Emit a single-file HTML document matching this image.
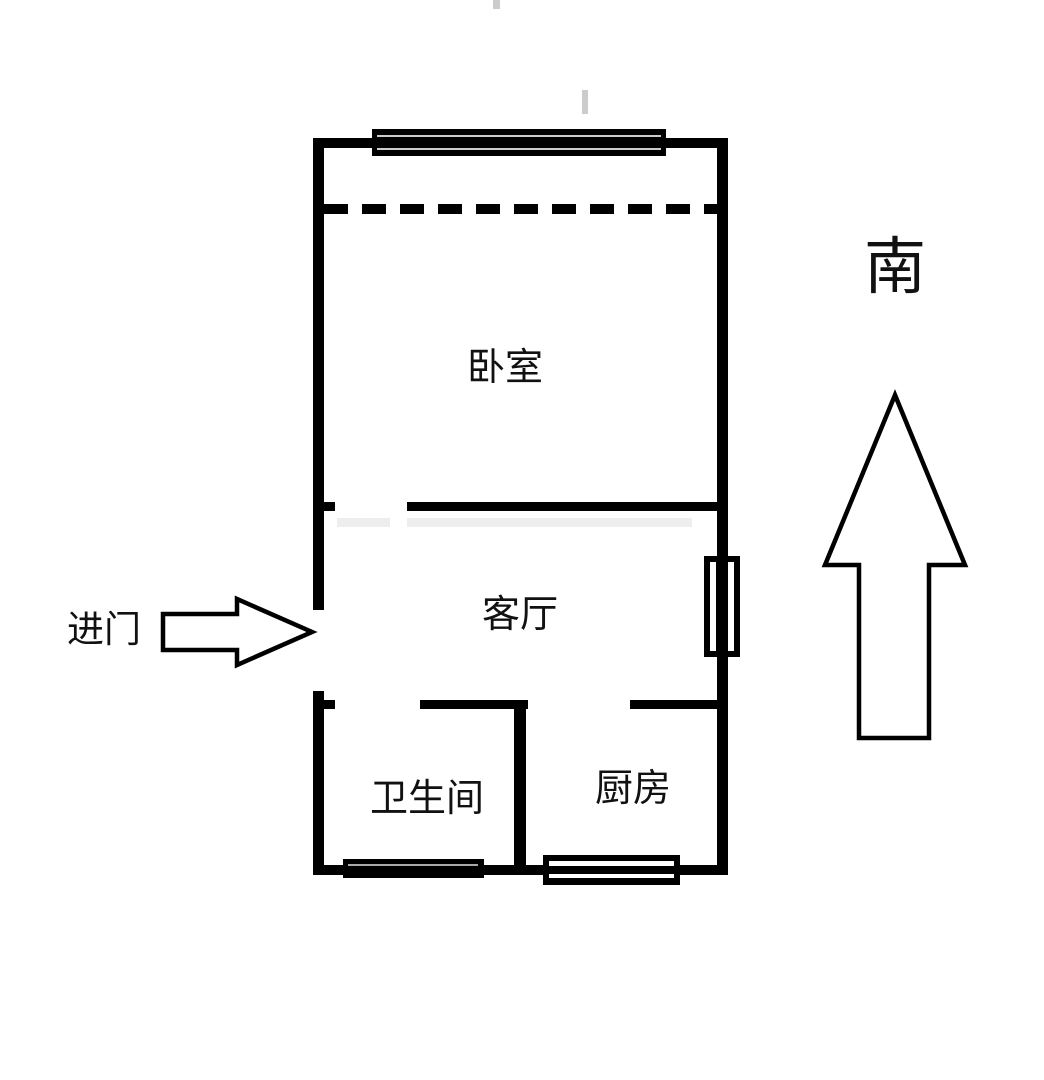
<!DOCTYPE html>
<html><head><meta charset="utf-8"><style>
html,body{margin:0;padding:0;background:#fff;}
svg{display:block;}
text{font-family:"Liberation Sans","Noto Sans CJK SC",sans-serif;fill:#111;}
</style></head><body>
<svg width="1044" height="1080" viewBox="0 0 1044 1080" xmlns="http://www.w3.org/2000/svg">
<rect x="0" y="0" width="1044" height="1080" fill="#fff"/>
<!-- faint marks -->
<rect x="493" y="0" width="7" height="9" fill="#ccc"/>
<rect x="582" y="90" width="6" height="24" fill="#ccc"/>
<!-- outer walls -->
<rect x="313" y="138" width="415" height="10" fill="#000"/>
<rect x="313" y="138" width="11" height="472" fill="#000"/>
<rect x="313" y="691" width="11" height="184" fill="#000"/>
<rect x="717" y="138" width="11" height="737" fill="#000"/>
<rect x="313" y="865" width="415" height="10" fill="#000"/>
<!-- top window -->
<rect x="372" y="129" width="294" height="27" fill="#000"/>
<rect x="377" y="135" width="284" height="2" fill="#ccc"/>
<rect x="377" y="148" width="284" height="2" fill="#ccc"/>
<!-- dashed line -->
<line x1="324" y1="209" x2="717" y2="209" stroke="#000" stroke-width="10" stroke-dasharray="24,14"/>
<!-- bedroom / living wall -->
<rect x="324" y="502" width="11" height="9" fill="#000"/>
<rect x="407" y="502" width="310" height="9" fill="#000"/>
<rect x="337" y="518" width="53" height="9" fill="#eee"/>
<rect x="407" y="518" width="285" height="9" fill="#eee"/>
<!-- right window -->
<rect x="704" y="556" width="36" height="101" fill="#000"/>
<rect x="710" y="562" width="6" height="89" fill="#fff"/>
<rect x="728" y="562" width="6" height="89" fill="#fff"/>
<!-- lower walls -->
<rect x="324" y="700" width="11" height="9" fill="#000"/>
<rect x="420" y="700" width="108" height="9" fill="#000"/>
<rect x="514" y="700" width="12" height="170" fill="#000"/>
<rect x="630" y="700" width="87" height="9" fill="#000"/>
<!-- bottom windows -->
<rect x="343" y="859" width="141" height="19" fill="#000"/>
<rect x="348" y="864" width="130" height="2" fill="#aaa"/>
<rect x="543" y="855" width="137" height="30" fill="#000"/>
<rect x="549" y="861" width="125" height="5" fill="#fff"/>
<rect x="549" y="874" width="125" height="4" fill="#fff"/>
<!-- entrance arrow -->
<polygon points="163,614 237,614 237,599 312,632 237,665 237,650 163,650" fill="#fff" stroke="#000" stroke-width="4.5" stroke-linejoin="miter"/>
<!-- south arrow -->
<polygon points="895,395 965,565 929,565 929,738 859,738 859,565 825,565" fill="#fff" stroke="#000" stroke-width="4.5"/>
<!-- labels -->
<text x="895" y="288" font-size="62" text-anchor="middle">南</text>
<text x="505" y="380" font-size="38" text-anchor="middle">卧室</text>
<text x="520" y="627" font-size="38" text-anchor="middle">客厅</text>
<text x="427" y="811" font-size="38" text-anchor="middle">卫生间</text>
<text x="633" y="801" font-size="38" text-anchor="middle">厨房</text>
<text x="104" y="642" font-size="37" text-anchor="middle">进门</text>
</svg>
</body></html>
